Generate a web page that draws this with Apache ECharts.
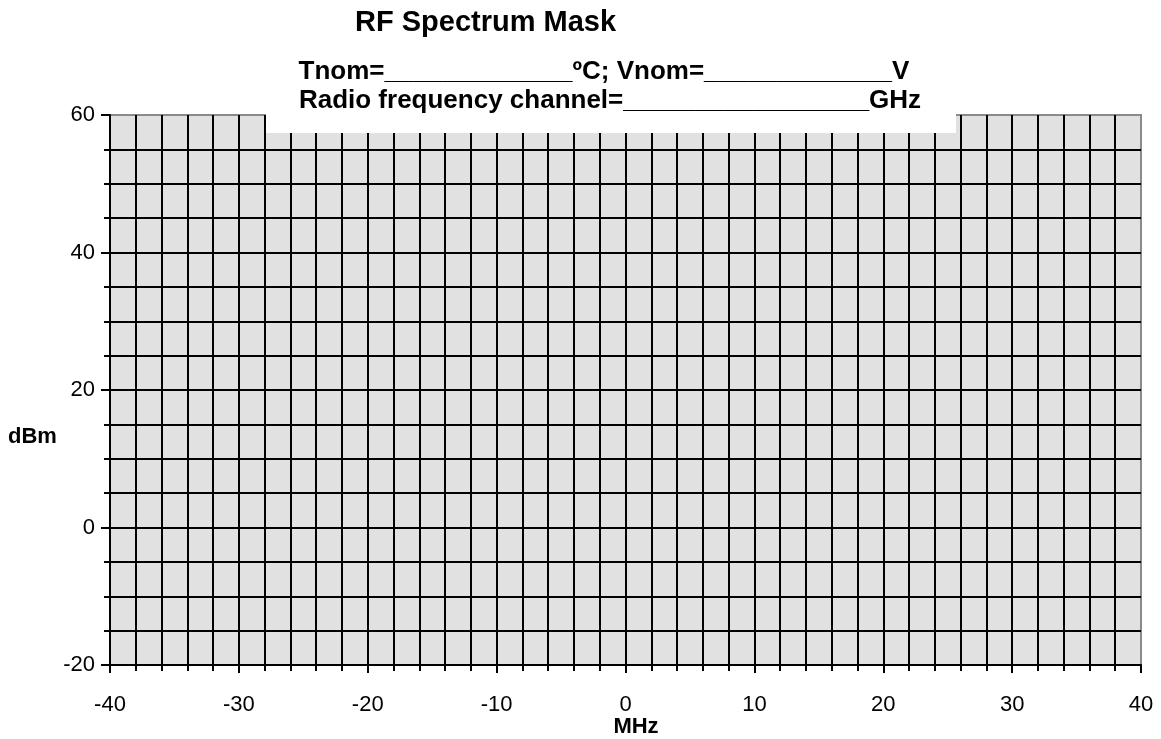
<!DOCTYPE html>
<html>
<head>
<meta charset="utf-8">
<script src="https://cdn.jsdelivr.net/npm/echarts@6/dist/echarts.min.js"></script>
<style>
html,body{margin:0;padding:0;background:#fff;}
#chart{width:1161px;height:739px;}
</style>
</head>
<body>
<div id="chart"></div>
<script>
// ---- chart data / text ----
const titleText = 'RF Spectrum Mask';
const subtitleLines = [
  'Tnom=_____________ºC; Vnom=_____________V',
  'Radio frequency channel=_________________GHz'
];
const xAxisName = 'MHz';
const yAxisName = 'dBm';
const xRange = [-40, 40];     // MHz
const xMajorStep = 10;
const xMinorPerMajor = 5;     // grid every 2 MHz
const yRange = [-20, 60];     // dBm
const yMajorStep = 20;
const yMinorPerMajor = 4;     // grid every 5 dBm
const maskData = [];          // blank form: no measured trace

const FONT = 'Liberation Sans, Arial, sans-serif';
const chart = echarts.init(document.getElementById('chart'), null, {renderer: 'canvas'});

const gridLine = {show: true, lineStyle: {color: '#000', width: 2}};

chart.setOption({
  backgroundColor: '#fff',
  animation: false,
  grid: {
    left: 110, right: 20, top: 115, bottom: 74,
    show: true, backgroundColor: '#e1e1e1',
    borderColor: '#8a8a8a', borderWidth: 2
  },
  xAxis: {
    type: 'value', min: xRange[0], max: xRange[1], interval: xMajorStep,
    axisLine: {show: true, onZero: false, lineStyle: {color: '#000', width: 2}},
    axisTick: {show: true, length: 8, lineStyle: {color: '#000', width: 2}},
    minorTick: {show: true, splitNumber: xMinorPerMajor, length: 6, lineStyle: {color: '#000', width: 2}},
    splitLine: Object.assign({showMinLine: false, showMaxLine: false}, gridLine),
    minorSplitLine: gridLine,
    axisLabel: {color: '#000', fontSize: 22, fontFamily: FONT, margin: 29}
  },
  yAxis: {
    type: 'value', min: yRange[0], max: yRange[1], interval: yMajorStep,
    axisLine: {show: true, onZero: false, lineStyle: {color: '#000', width: 2}},
    axisTick: {show: true, length: 9, lineStyle: {color: '#000', width: 2}},
    minorTick: {show: true, splitNumber: yMinorPerMajor, length: 6, lineStyle: {color: '#000', width: 2}},
    splitLine: Object.assign({showMinLine: false, showMaxLine: false}, gridLine),
    minorSplitLine: gridLine,
    axisLabel: {color: '#000', fontSize: 22, fontFamily: FONT, margin: 15, padding: [8, 0, 0, 0]}
  },
  series: [{type: 'line', data: maskData, showSymbol: false}],
  graphic: [
    {type: 'rect', z: 50, shape: {x: 266, y: 0, width: 690, height: 133}, style: {fill: '#fff'}},
    {type: 'text', z: 60, x: 355, y: 23, style: {text: titleText, font: 'bold 29px ' + FONT, fill: '#000', textAlign: 'left', textVerticalAlign: 'middle'}},
    {type: 'text', z: 60, x: 604, y: 72, style: {text: subtitleLines[0], font: 'bold 26px ' + FONT, fill: '#000', textAlign: 'center', textVerticalAlign: 'middle'}},
    {type: 'text', z: 60, x: 610, y: 101, style: {text: subtitleLines[1], font: 'bold 26px ' + FONT, fill: '#000', textAlign: 'center', textVerticalAlign: 'middle'}},
    {type: 'text', z: 60, x: 8, y: 437, style: {text: yAxisName, font: 'bold 22px ' + FONT, fill: '#000', textAlign: 'left', textVerticalAlign: 'middle'}},
    {type: 'text', z: 60, x: 636, y: 727, style: {text: xAxisName, font: 'bold 22px ' + FONT, fill: '#000', textAlign: 'center', textVerticalAlign: 'middle'}}
  ]
});
</script>
</body>
</html>
